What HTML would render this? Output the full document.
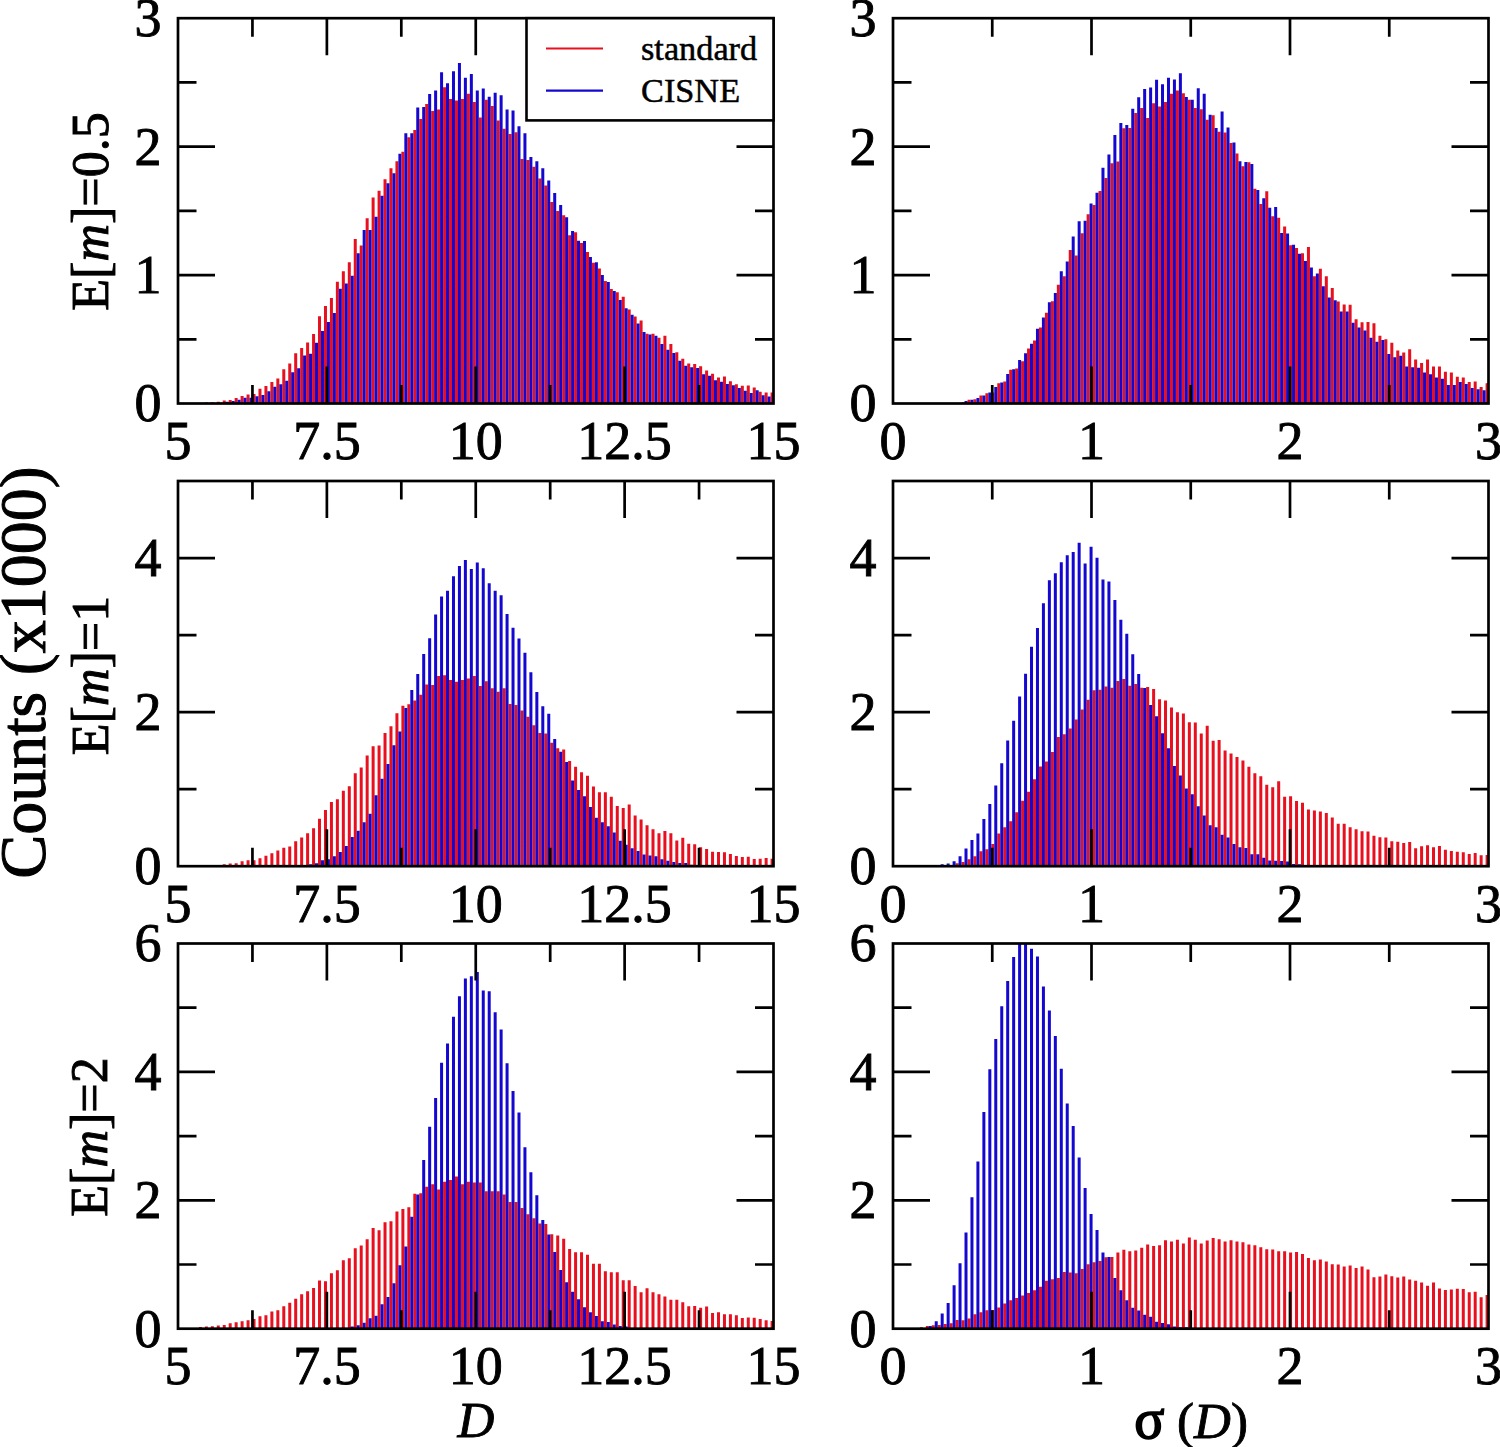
<!DOCTYPE html>
<html><head><meta charset="utf-8"><style>
html,body{margin:0;padding:0;background:#fff;width:1500px;height:1447px;overflow:hidden}
text{font-family:"Liberation Serif",serif;fill:#000}
.t{font-size:54px;stroke:#000;stroke-width:0.9px}
.e{font-size:52px;stroke:#000;stroke-width:0.9px}
.lg{font-size:34.3px;stroke:#000;stroke-width:0.5px}
.big{font-size:66px;stroke:#000;stroke-width:1px}
</style></head><body>
<svg width="1500" height="1447" viewBox="0 0 1500 1447" style="display:block">
<rect width="1500" height="1447" fill="#fff"/>
<path fill="#e8101e" d="M204.88 403.50H207.88V402.47H204.88ZM210.83 403.50H213.83V402.22H210.83ZM216.78 403.50H219.78V401.83H216.78ZM222.74 403.50H225.74V400.42H222.74ZM228.69 403.50H231.69V400.03H228.69ZM234.65 403.50H237.65V397.98H234.65ZM240.60 403.50H243.60V396.05H240.60ZM246.56 403.50H249.56V394.38H246.56ZM252.52 403.50H255.52V394.12H252.52ZM258.47 403.50H261.47V388.73H258.47ZM264.43 403.50H267.43V386.03H264.43ZM270.38 403.50H273.38V382.05H270.38ZM276.34 403.50H279.34V378.39H276.34ZM282.29 403.50H285.29V369.24H282.29ZM288.25 403.50H291.25V363.44H288.25ZM294.20 403.50H297.20V353.28H294.20ZM300.16 403.50H303.16V347.91H300.16ZM306.11 403.50H309.11V342.39H306.11ZM312.07 403.50H315.07V334.12H312.07ZM318.02 403.50H321.02V316.27H318.02ZM323.98 403.50H326.98V306.11H323.98ZM329.93 403.50H332.93V298.12H329.93ZM335.88 403.50H338.88V281.72H335.88ZM341.84 403.50H344.84V271.27H341.84ZM347.80 403.50H350.80V262.13H347.80ZM353.75 403.50H356.75V239.05H353.75ZM359.71 403.50H362.71V245.44H359.71ZM365.66 403.50H368.66V218.30H365.66ZM371.62 403.50H374.62V197.54H371.62ZM377.57 403.50H380.57V190.72H377.57ZM383.53 403.50H386.53V179.24H383.53ZM389.48 403.50H392.48V168.22H389.48ZM395.44 403.50H398.44V161.21H395.44ZM401.39 403.50H404.39V151.69H401.39ZM407.35 403.50H410.35V137.16H407.35ZM413.30 403.50H416.30V129.94H413.30ZM419.25 403.50H422.25V119.12H419.25ZM425.21 403.50H428.21V104.09H425.21ZM431.17 403.50H434.17V111.10H431.17ZM437.12 403.50H440.12V109.60H437.12ZM443.08 403.50H446.08V87.26H443.08ZM449.03 403.50H452.03V99.08H449.03ZM454.99 403.50H457.99V100.58H454.99ZM460.94 403.50H463.94V99.08H460.94ZM466.90 403.50H469.90V93.87H466.90ZM472.85 403.50H475.85V102.09H472.85ZM478.81 403.50H481.81V117.44H478.81ZM484.76 403.50H487.76V99.75H484.76ZM490.72 403.50H493.72V105.97H490.72ZM496.67 403.50H499.67V120.48H496.67ZM502.62 403.50H505.62V128.78H502.62ZM508.58 403.50H511.58V134.03H508.58ZM514.53 403.50H517.53V132.23H514.53ZM520.49 403.50H523.49V158.91H520.49ZM526.45 403.50H529.45V159.88H526.45ZM532.40 403.50H535.40V166.79H532.40ZM538.36 403.50H541.36V178.54H538.36ZM544.31 403.50H547.31V185.45H544.31ZM550.26 403.50H553.26V202.03H550.26ZM556.22 403.50H559.22V211.02H556.22ZM562.18 403.50H565.18V215.16H562.18ZM568.13 403.50H571.13V235.21H568.13ZM574.09 403.50H577.09V232.17H574.09ZM580.04 403.50H583.04V243.01H580.04ZM586.00 403.50H589.00V251.97H586.00ZM591.95 403.50H594.95V262.84H591.95ZM597.91 403.50H600.91V268.59H597.91ZM603.86 403.50H606.86V281.12H603.86ZM609.82 403.50H612.82V289.05H609.82ZM615.77 403.50H618.77V292.25H615.77ZM621.73 403.50H624.73V296.72H621.73ZM627.68 403.50H630.68V309.51H627.68ZM633.64 403.50H636.64V316.55H633.64ZM639.59 403.50H642.59V320.38H639.59ZM645.54 403.50H648.54V333.81H645.54ZM651.50 403.50H654.50V333.81H651.50ZM657.46 403.50H660.46V337.65H657.46ZM663.41 403.50H666.41V335.73H663.41ZM669.37 403.50H672.37V344.04H669.37ZM675.32 403.50H678.32V352.35H675.32ZM681.27 403.50H684.27V358.75H681.27ZM687.23 403.50H690.23V363.56H687.23ZM693.19 403.50H696.19V363.94H693.19ZM699.14 403.50H702.14V366.13H699.14ZM705.10 403.50H708.10V370.62H705.10ZM711.05 403.50H714.05V373.70H711.05ZM717.00 403.50H720.00V377.56H717.00ZM722.96 403.50H725.96V376.53H722.96ZM728.92 403.50H731.92V381.28H728.92ZM734.87 403.50H737.87V384.36H734.87ZM740.83 403.50H743.83V385.78H740.83ZM746.78 403.50H749.78V385.52H746.78ZM752.74 403.50H755.74V387.57H752.74ZM758.69 403.50H761.69V391.68H758.69ZM764.64 403.50H767.64V392.45H764.64ZM770.60 403.50H773.50V392.45H770.60Z"/>
<path fill="#1408d0" d="M219.74 403.50H222.74V402.86H219.74ZM225.69 403.50H228.69V401.83H225.69ZM231.65 403.50H234.65V400.93H231.65ZM237.60 403.50H240.60V399.65H237.60ZM243.56 403.50H246.56V397.85H243.56ZM249.51 403.50H252.51V397.85H249.51ZM255.47 403.50H258.47V396.31H255.47ZM261.42 403.50H264.42V394.89H261.42ZM267.38 403.50H270.38V391.17H267.38ZM273.33 403.50H276.33V386.80H273.33ZM279.29 403.50H282.29V384.19H279.29ZM285.24 403.50H288.24V380.86H285.24ZM291.19 403.50H294.19V372.15H291.19ZM297.15 403.50H300.15V368.23H297.15ZM303.11 403.50H306.11V355.46H303.11ZM309.06 403.50H312.06V353.71H309.06ZM315.02 403.50H318.02V342.68H315.02ZM320.97 403.50H323.97V331.07H320.97ZM326.93 403.50H329.93V322.07H326.93ZM332.88 403.50H335.88V313.07H332.88ZM338.83 403.50H341.83V288.69H338.83ZM344.79 403.50H347.79V283.61H344.79ZM350.75 403.50H353.75V275.63H350.75ZM356.70 403.50H359.70V253.13H356.70ZM362.66 403.50H365.66V229.91H362.66ZM368.61 403.50H371.61V229.91H368.61ZM374.56 403.50H377.56V216.85H374.56ZM380.52 403.50H383.52V195.80H380.52ZM386.48 403.50H389.48V183.25H386.48ZM392.43 403.50H395.43V173.23H392.43ZM398.39 403.50H401.39V153.69H398.39ZM404.34 403.50H407.34V133.15H404.34ZM410.30 403.50H413.30V133.15H410.30ZM416.25 403.50H419.25V107.60H416.25ZM422.20 403.50H425.20V106.90H422.20ZM428.16 403.50H431.16V94.07H428.16ZM434.12 403.50H437.12V90.56H434.12ZM440.07 403.50H443.07V72.23H440.07ZM446.03 403.50H449.03V83.35H446.03ZM451.98 403.50H454.98V71.22H451.98ZM457.94 403.50H460.94V63.01H457.94ZM463.89 403.50H466.89V77.84H463.89ZM469.85 403.50H472.85V74.03H469.85ZM475.80 403.50H478.80V90.56H475.80ZM481.75 403.50H484.75V88.42H481.75ZM487.71 403.50H490.71V96.71H487.71ZM493.67 403.50H496.67V92.84H493.67ZM499.62 403.50H502.62V95.33H499.62ZM505.57 403.50H508.57V109.43H505.57ZM511.53 403.50H514.53V110.39H511.53ZM517.48 403.50H520.48V126.29H517.48ZM523.44 403.50H526.44V133.34H523.44ZM529.39 403.50H532.39V157.11H529.39ZM535.35 403.50H538.35V161.26H535.35ZM541.30 403.50H544.30V168.17H541.30ZM547.26 403.50H550.26V180.61H547.26ZM553.21 403.50H556.21V193.05H553.21ZM559.17 403.50H562.17V205.07H559.17ZM565.12 403.50H568.12V217.24H565.12ZM571.08 403.50H574.08V231.06H571.08ZM577.03 403.50H580.03V240.74H577.03ZM582.99 403.50H585.99V241.10H582.99ZM588.94 403.50H591.94V257.08H588.94ZM594.90 403.50H597.90V262.20H594.90ZM600.86 403.50H603.86V274.98H600.86ZM606.81 403.50H609.81V282.02H606.81ZM612.76 403.50H615.76V290.97H612.76ZM618.72 403.50H621.72V299.92H618.72ZM624.67 403.50H627.67V308.23H624.67ZM630.63 403.50H633.63V314.63H630.63ZM636.59 403.50H639.59V323.58H636.59ZM642.54 403.50H645.54V331.89H642.54ZM648.49 403.50H651.49V334.45H648.49ZM654.45 403.50H657.45V335.73H654.45ZM660.40 403.50H663.40V344.04H660.40ZM666.36 403.50H669.36V349.79H666.36ZM672.31 403.50H675.31V352.99H672.31ZM678.27 403.50H681.27V360.66H678.27ZM684.22 403.50H687.22V365.78H684.22ZM690.18 403.50H693.18V367.15H690.18ZM696.13 403.50H699.13V368.05H696.13ZM702.09 403.50H705.09V374.35H702.09ZM708.04 403.50H711.04V375.76H708.04ZM714.00 403.50H717.00V380.25H714.00ZM719.95 403.50H722.95V381.67H719.95ZM725.91 403.50H728.91V384.11H725.91ZM731.87 403.50H734.87V385.13H731.87ZM737.82 403.50H740.82V387.96H737.82ZM743.77 403.50H746.77V390.66H743.77ZM749.73 403.50H752.73V393.10H749.73ZM755.68 403.50H758.68V390.27H755.68ZM761.64 403.50H764.64V395.15H761.64ZM767.59 403.50H770.59V396.56H767.59Z"/>
<path fill="none" stroke="#000" stroke-width="2.70" d="M326.88 18.20V55.20M326.88 403.50V366.50M475.75 18.20V55.20M475.75 403.50V366.50M624.62 18.20V55.20M624.62 403.50V366.50M252.44 18.20V36.70M252.44 403.50V385.00M401.31 18.20V36.70M401.31 403.50V385.00M550.19 18.20V36.70M550.19 403.50V385.00M699.06 18.20V36.70M699.06 403.50V385.00M178.00 275.07H215.00M773.50 275.07H736.50M178.00 146.63H215.00M773.50 146.63H736.50M178.00 339.28H196.50M773.50 339.28H755.00M178.00 210.85H196.50M773.50 210.85H755.00M178.00 82.42H196.50M773.50 82.42H755.00"/>
<rect x="178.00" y="18.20" width="595.50" height="385.30" fill="none" stroke="#000" stroke-width="2.70"/>
<text x="178.00" y="459.30" text-anchor="middle" class="t">5</text>
<text x="326.88" y="459.30" text-anchor="middle" class="t">7.5</text>
<text x="475.75" y="459.30" text-anchor="middle" class="t">10</text>
<text x="624.62" y="459.30" text-anchor="middle" class="t">12.5</text>
<text x="773.50" y="459.30" text-anchor="middle" class="t">15</text>
<text x="161.50" y="421.40" text-anchor="end" class="t">0</text>
<text x="161.50" y="292.97" text-anchor="end" class="t">1</text>
<text x="161.50" y="164.53" text-anchor="end" class="t">2</text>
<text x="161.50" y="36.10" text-anchor="end" class="t">3</text>
<path fill="#e8101e" d="M961.56 403.50H964.56V402.22H961.56ZM967.51 403.50H970.51V399.78H967.51ZM973.47 403.50H976.47V399.26H973.47ZM979.43 403.50H982.43V395.41H979.43ZM985.38 403.50H988.38V393.23H985.38ZM991.34 403.50H994.34V392.45H991.34ZM997.29 403.50H1000.29V383.21H997.29ZM1003.25 403.50H1006.25V381.54H1003.25ZM1009.20 403.50H1012.20V369.72H1009.20ZM1015.16 403.50H1018.16V368.44H1015.16ZM1021.11 403.50H1024.11V361.37H1021.11ZM1027.06 403.50H1030.06V348.40H1027.06ZM1033.02 403.50H1036.02V340.44H1033.02ZM1038.97 403.50H1041.97V327.47H1038.97ZM1044.93 403.50H1047.93V312.70H1044.93ZM1050.88 403.50H1053.88V301.27H1050.88ZM1056.84 403.50H1059.84V284.70H1056.84ZM1062.79 403.50H1065.79V276.35H1062.79ZM1068.75 403.50H1071.75V249.89H1068.75ZM1074.70 403.50H1077.70V255.42H1074.70ZM1080.66 403.50H1083.66V233.33H1080.66ZM1086.62 403.50H1089.62V214.19H1086.62ZM1092.57 403.50H1095.57V205.07H1092.57ZM1098.52 403.50H1101.52V190.94H1098.52ZM1104.48 403.50H1107.48V178.10H1104.48ZM1110.43 403.50H1113.43V163.20H1110.43ZM1116.39 403.50H1119.39V161.53H1116.39ZM1122.34 403.50H1125.34V128.27H1122.34ZM1128.30 403.50H1131.30V128.01H1128.30ZM1134.25 403.50H1137.25V113.11H1134.25ZM1140.21 403.50H1143.21V108.10H1140.21ZM1146.16 403.50H1149.16V117.99H1146.16ZM1152.12 403.50H1155.12V103.35H1152.12ZM1158.07 403.50H1161.07V106.43H1158.07ZM1164.03 403.50H1167.03V101.94H1164.03ZM1169.98 403.50H1172.98V93.72H1169.98ZM1175.94 403.50H1178.94V90.38H1175.94ZM1181.89 403.50H1184.89V93.21H1181.89ZM1187.85 403.50H1190.85V99.76H1187.85ZM1193.80 403.50H1196.80V108.10H1193.80ZM1199.76 403.50H1202.76V109.26H1199.76ZM1205.71 403.50H1208.71V119.66H1205.71ZM1211.67 403.50H1214.67V115.30H1211.67ZM1217.62 403.50H1220.62V131.86H1217.62ZM1223.58 403.50H1226.58V132.38H1223.58ZM1229.53 403.50H1232.53V142.91H1229.53ZM1235.49 403.50H1238.49V153.44H1235.49ZM1241.44 403.50H1244.44V166.16H1241.44ZM1247.40 403.50H1250.40V162.30H1247.40ZM1253.36 403.50H1256.36V188.76H1253.36ZM1259.31 403.50H1262.31V204.04H1259.31ZM1265.26 403.50H1268.26V191.20H1265.26ZM1271.22 403.50H1274.22V216.37H1271.22ZM1277.17 403.50H1280.17V217.66H1277.17ZM1283.13 403.50H1286.13V226.39H1283.13ZM1289.09 403.50H1292.09V245.14H1289.09ZM1295.04 403.50H1298.04V248.10H1295.04ZM1300.99 403.50H1303.99V253.36H1300.99ZM1306.95 403.50H1309.95V246.94H1306.95ZM1312.90 403.50H1315.90V276.35H1312.90ZM1318.86 403.50H1321.86V268.64H1318.86ZM1324.82 403.50H1327.82V276.35H1324.82ZM1330.77 403.50H1333.77V288.04H1330.77ZM1336.72 403.50H1339.72V301.40H1336.72ZM1342.68 403.50H1345.68V304.48H1342.68ZM1348.63 403.50H1351.63V304.86H1348.63ZM1354.59 403.50H1357.59V319.25H1354.59ZM1360.54 403.50H1363.54V322.20H1360.54ZM1366.50 403.50H1369.50V321.94H1366.50ZM1372.45 403.50H1375.45V323.23H1372.45ZM1378.41 403.50H1381.41V335.69H1378.41ZM1384.36 403.50H1387.36V339.15H1384.36ZM1390.32 403.50H1393.32V342.75H1390.32ZM1396.27 403.50H1399.27V350.59H1396.27ZM1402.23 403.50H1405.23V352.38H1402.23ZM1408.18 403.50H1411.18V349.30H1408.18ZM1414.14 403.50H1417.14V359.45H1414.14ZM1420.09 403.50H1423.09V362.92H1420.09ZM1426.05 403.50H1429.05V359.45H1426.05ZM1432.00 403.50H1435.00V366.51H1432.00ZM1437.96 403.50H1440.96V366.51H1437.96ZM1443.91 403.50H1446.91V371.65H1443.91ZM1449.87 403.50H1452.87V372.55H1449.87ZM1455.82 403.50H1458.82V376.66H1455.82ZM1461.78 403.50H1464.78V377.56H1461.78ZM1467.73 403.50H1470.73V381.92H1467.73ZM1473.69 403.50H1476.69V381.41H1473.69ZM1479.64 403.50H1482.64V387.06H1479.64ZM1485.60 403.50H1488.50V383.21H1485.60Z"/>
<path fill="#1408d0" d="M964.51 403.50H967.51V400.93H964.51ZM970.46 403.50H973.46V399.78H970.46ZM976.42 403.50H979.42V397.98H976.42ZM982.38 403.50H985.38V395.41H982.38ZM988.33 403.50H991.33V392.45H988.33ZM994.28 403.50H997.28V387.06H994.28ZM1000.24 403.50H1003.24V382.44H1000.24ZM1006.19 403.50H1009.19V374.09H1006.19ZM1012.15 403.50H1015.15V369.34H1012.15ZM1018.11 403.50H1021.11V360.09H1018.11ZM1024.06 403.50H1027.06V353.15H1024.06ZM1030.01 403.50H1033.01V343.65H1030.01ZM1035.97 403.50H1038.97V328.75H1035.97ZM1041.92 403.50H1044.92V317.45H1041.92ZM1047.88 403.50H1050.88V302.17H1047.88ZM1053.84 403.50H1056.84V293.05H1053.84ZM1059.79 403.50H1062.79V271.34H1059.79ZM1065.74 403.50H1068.74V261.45H1065.74ZM1071.70 403.50H1074.70V236.54H1071.70ZM1077.65 403.50H1080.65V221.25H1077.65ZM1083.61 403.50H1086.61V220.87H1083.61ZM1089.57 403.50H1092.57V203.40H1089.57ZM1095.52 403.50H1098.52V192.74H1095.52ZM1101.47 403.50H1104.47V167.82H1101.47ZM1107.43 403.50H1110.43V154.47H1107.43ZM1113.38 403.50H1116.38V134.95H1113.38ZM1119.34 403.50H1122.34V123.00H1119.34ZM1125.29 403.50H1128.29V125.06H1125.29ZM1131.25 403.50H1134.25V108.87H1131.25ZM1137.20 403.50H1140.20V97.31H1137.20ZM1143.16 403.50H1146.16V88.97H1143.16ZM1149.12 403.50H1152.12V87.43H1149.12ZM1155.07 403.50H1158.07V79.85H1155.07ZM1161.02 403.50H1164.02V84.34H1161.02ZM1166.98 403.50H1169.98V77.66H1166.98ZM1172.93 403.50H1175.93V79.59H1172.93ZM1178.89 403.50H1181.89V73.30H1178.89ZM1184.85 403.50H1187.85V97.06H1184.85ZM1190.80 403.50H1193.80V99.76H1190.80ZM1196.75 403.50H1199.75V88.20H1196.75ZM1202.71 403.50H1205.71V93.72H1202.71ZM1208.66 403.50H1211.66V114.65H1208.66ZM1214.62 403.50H1217.62V128.01H1214.62ZM1220.58 403.50H1223.58V111.44H1220.58ZM1226.53 403.50H1229.53V127.50H1226.53ZM1232.48 403.50H1235.48V142.40H1232.48ZM1238.44 403.50H1241.44V161.15H1238.44ZM1244.39 403.50H1247.39V162.05H1244.39ZM1250.35 403.50H1253.35V163.97H1250.35ZM1256.31 403.50H1259.31V190.04H1256.31ZM1262.26 403.50H1265.26V198.14H1262.26ZM1268.21 403.50H1271.21V207.64H1268.21ZM1274.17 403.50H1277.17V207.00H1274.17ZM1280.12 403.50H1283.12V232.94H1280.12ZM1286.08 403.50H1289.08V233.45H1286.08ZM1292.04 403.50H1295.04V244.63H1292.04ZM1297.99 403.50H1300.99V253.75H1297.99ZM1303.94 403.50H1306.94V261.07H1303.94ZM1309.90 403.50H1312.90V267.49H1309.90ZM1315.86 403.50H1318.86V273.40H1315.86ZM1321.81 403.50H1324.81V286.24H1321.81ZM1327.77 403.50H1330.77V297.54H1327.77ZM1333.72 403.50H1336.72V300.37H1333.72ZM1339.67 403.50H1342.67V311.54H1339.67ZM1345.63 403.50H1348.63V311.54H1345.63ZM1351.59 403.50H1354.59V322.84H1351.59ZM1357.54 403.50H1360.54V327.47H1357.54ZM1363.49 403.50H1366.49V330.42H1363.49ZM1369.45 403.50H1372.45V337.87H1369.45ZM1375.40 403.50H1378.40V341.85H1375.40ZM1381.36 403.50H1384.36V340.05H1381.36ZM1387.31 403.50H1390.31V354.05H1387.31ZM1393.27 403.50H1396.27V357.14H1393.27ZM1399.22 403.50H1402.22V355.85H1399.22ZM1405.18 403.50H1408.18V366.51H1405.18ZM1411.13 403.50H1414.13V367.28H1411.13ZM1417.09 403.50H1420.09V367.80H1417.09ZM1423.04 403.50H1426.04V372.55H1423.04ZM1429.00 403.50H1432.00V374.35H1429.00ZM1434.95 403.50H1437.95V377.56H1434.95ZM1440.91 403.50H1443.91V378.84H1440.91ZM1446.87 403.50H1449.87V384.88H1446.87ZM1452.82 403.50H1455.82V384.88H1452.82ZM1458.77 403.50H1461.77V381.92H1458.77ZM1464.73 403.50H1467.73V384.11H1464.73ZM1470.68 403.50H1473.68V387.96H1470.68ZM1476.64 403.50H1479.64V389.24H1476.64ZM1482.60 403.50H1485.60V390.14H1482.60Z"/>
<path fill="none" stroke="#000" stroke-width="2.70" d="M1091.50 18.20V55.20M1091.50 403.50V366.50M1290.00 18.20V55.20M1290.00 403.50V366.50M992.25 18.20V36.70M992.25 403.50V385.00M1190.75 18.20V36.70M1190.75 403.50V385.00M1389.25 18.20V36.70M1389.25 403.50V385.00M893.00 275.07H930.00M1488.50 275.07H1451.50M893.00 146.63H930.00M1488.50 146.63H1451.50M893.00 339.28H911.50M1488.50 339.28H1470.00M893.00 210.85H911.50M1488.50 210.85H1470.00M893.00 82.42H911.50M1488.50 82.42H1470.00"/>
<rect x="893.00" y="18.20" width="595.50" height="385.30" fill="none" stroke="#000" stroke-width="2.70"/>
<text x="893.00" y="459.30" text-anchor="middle" class="t">0</text>
<text x="1091.50" y="459.30" text-anchor="middle" class="t">1</text>
<text x="1290.00" y="459.30" text-anchor="middle" class="t">2</text>
<text x="1488.50" y="459.30" text-anchor="middle" class="t">3</text>
<text x="876.50" y="421.40" text-anchor="end" class="t">0</text>
<text x="876.50" y="292.97" text-anchor="end" class="t">1</text>
<text x="876.50" y="164.53" text-anchor="end" class="t">2</text>
<text x="876.50" y="36.10" text-anchor="end" class="t">3</text>
<path fill="#e8101e" d="M210.83 866.20H213.83V865.28H210.83ZM216.78 866.20H219.78V865.43H216.78ZM222.74 866.20H225.74V864.27H222.74ZM228.69 866.20H231.69V863.43H228.69ZM234.65 866.20H237.65V863.20H234.65ZM240.60 866.20H243.60V861.27H240.60ZM246.56 866.20H249.56V860.19H246.56ZM252.52 866.20H255.52V860.27H252.52ZM258.47 866.20H261.47V858.26H258.47ZM264.43 866.20H267.43V855.80H264.43ZM270.38 866.20H273.38V853.33H270.38ZM276.34 866.20H279.34V850.41H276.34ZM282.29 866.20H285.29V847.79H282.29ZM288.25 866.20H291.25V846.40H288.25ZM294.20 866.20H297.20V841.32H294.20ZM300.16 866.20H303.16V837.62H300.16ZM306.11 866.20H309.11V833.30H306.11ZM312.07 866.20H315.07V828.30H312.07ZM318.02 866.20H321.02V818.67H318.02ZM323.98 866.20H326.98V810.11H323.98ZM329.93 866.20H332.93V802.03H329.93ZM335.88 866.20H338.88V799.33H335.88ZM341.84 866.20H344.84V790.78H341.84ZM347.80 866.20H350.80V786.23H347.80ZM353.75 866.20H356.75V773.21H353.75ZM359.71 866.20H362.71V767.59H359.71ZM365.66 866.20H368.66V755.49H365.66ZM371.62 866.20H374.62V746.17H371.62ZM377.57 866.20H380.57V745.48H377.57ZM383.53 866.20H386.53V732.92H383.53ZM389.48 866.20H392.48V726.14H389.48ZM395.44 866.20H398.44V713.28H395.44ZM401.39 866.20H404.39V705.80H401.39ZM407.35 866.20H410.35V704.18H407.35ZM413.30 866.20H416.30V700.49H413.30ZM419.25 866.20H422.25V694.63H419.25ZM425.21 866.20H428.21V684.62H425.21ZM431.17 866.20H434.17V685.08H431.17ZM437.12 866.20H440.12V675.99H437.12ZM443.08 866.20H446.08V675.22H443.08ZM449.03 866.20H452.03V680.07H449.03ZM454.99 866.20H457.99V681.77H454.99ZM460.94 866.20H463.94V680.07H460.94ZM466.90 866.20H469.90V678.53H466.90ZM472.85 866.20H475.85V675.99H472.85ZM478.81 866.20H481.81V686.08H478.81ZM484.76 866.20H487.76V681.30H484.76ZM490.72 866.20H493.72V688.16H490.72ZM496.67 866.20H499.67V691.63H496.67ZM502.62 866.20H505.62V688.16H502.62ZM508.58 866.20H511.58V704.11H508.58ZM514.53 866.20H517.53V705.11H514.53ZM520.49 866.20H523.49V710.58H520.49ZM526.45 866.20H529.45V716.67H526.45ZM532.40 866.20H535.40V725.29H532.40ZM538.36 866.20H541.36V733.07H538.36ZM544.31 866.20H547.31V733.38H544.31ZM550.26 866.20H553.26V742.63H550.26ZM556.22 866.20H559.22V748.33H556.22ZM562.18 866.20H565.18V749.48H562.18ZM568.13 866.20H571.13V761.12H568.13ZM574.09 866.20H577.09V766.82H574.09ZM580.04 866.20H583.04V772.29H580.04ZM586.00 866.20H589.00V775.83H586.00ZM591.95 866.20H594.95V786.39H591.95ZM597.91 866.20H600.91V792.16H597.91ZM603.86 866.20H606.86V792.16H603.86ZM609.82 866.20H612.82V796.63H609.82ZM615.77 866.20H618.77V805.88H615.77ZM621.73 866.20H624.73V808.11H621.73ZM627.68 866.20H630.68V804.57H627.68ZM633.64 866.20H636.64V815.58H633.64ZM639.59 866.20H642.59V819.59H639.59ZM645.54 866.20H648.54V825.37H645.54ZM651.50 866.20H654.50V829.30H651.50ZM657.46 866.20H660.46V833.30H657.46ZM663.41 866.20H666.41V831.07H663.41ZM669.37 866.20H672.37V833.30H669.37ZM675.32 866.20H678.32V840.39H675.32ZM681.27 866.20H684.27V837.70H681.27ZM687.23 866.20H690.23V843.70H687.23ZM693.19 866.20H696.19V844.32H693.19ZM699.14 866.20H702.14V847.17H699.14ZM705.10 866.20H708.10V849.02H705.10ZM711.05 866.20H714.05V851.72H711.05ZM717.00 866.20H720.00V852.02H717.00ZM722.96 866.20H725.96V852.18H722.96ZM728.92 866.20H731.92V854.10H728.92ZM734.87 866.20H737.87V856.03H734.87ZM740.83 866.20H743.83V857.03H740.83ZM746.78 866.20H749.78V856.72H746.78ZM752.74 866.20H755.74V859.04H752.74ZM758.69 866.20H761.69V858.73H758.69ZM764.64 866.20H767.64V858.11H764.64ZM770.60 866.20H773.50V858.73H770.60Z"/>
<path fill="#1408d0" d="M309.06 866.20H312.06V864.27H309.06ZM315.02 866.20H318.02V863.20H315.02ZM320.97 866.20H323.97V860.27H320.97ZM326.93 866.20H329.93V859.27H326.93ZM332.88 866.20H335.88V856.18H332.88ZM338.83 866.20H341.83V852.10H338.83ZM344.79 866.20H347.79V846.09H344.79ZM350.75 866.20H353.75V837.00H350.75ZM356.70 866.20H359.70V830.68H356.70ZM362.66 866.20H365.66V822.21H362.66ZM368.61 866.20H371.61V813.81H368.61ZM374.56 866.20H377.56V795.17H374.56ZM380.52 866.20H383.52V778.68H380.52ZM386.48 866.20H389.48V764.12H386.48ZM392.43 866.20H395.43V745.32H392.43ZM398.39 866.20H401.39V731.53H398.39ZM404.34 866.20H407.34V707.96H404.34ZM410.30 866.20H413.30V690.09H410.30ZM416.25 866.20H419.25V673.99H416.25ZM422.20 866.20H425.20V654.11H422.20ZM428.16 866.20H431.16V638.16H428.16ZM434.12 866.20H437.12V614.59H434.12ZM440.07 866.20H443.07V596.41H440.07ZM446.03 866.20H449.03V590.63H446.03ZM451.98 866.20H454.98V576.22H451.98ZM457.94 866.20H460.94V565.98H457.94ZM463.89 866.20H466.89V559.89H463.89ZM469.85 866.20H472.85V568.98H469.85ZM475.80 866.20H478.80V562.43H475.80ZM481.75 866.20H484.75V568.13H481.75ZM487.71 866.20H490.71V583.23H487.71ZM493.67 866.20H496.67V590.63H493.67ZM499.62 866.20H502.62V595.33H499.62ZM505.57 866.20H508.57V613.89H505.57ZM511.53 866.20H514.53V627.68H511.53ZM517.48 866.20H520.48V638.39H517.48ZM523.44 866.20H526.44V652.80H523.44ZM529.39 866.20H532.39V672.29H529.39ZM535.35 866.20H538.35V692.01H535.35ZM541.30 866.20H544.30V706.26H541.30ZM547.26 866.20H550.26V713.74H547.26ZM553.21 866.20H556.21V739.08H553.21ZM559.17 866.20H562.17V751.72H559.17ZM565.12 866.20H568.12V762.12H565.12ZM571.08 866.20H574.08V780.61H571.08ZM577.03 866.20H580.03V790.08H577.03ZM582.99 866.20H585.99V796.17H582.99ZM588.94 866.20H591.94V807.03H588.94ZM594.90 866.20H597.90V817.82H594.90ZM600.86 866.20H603.86V822.21H600.86ZM606.81 866.20H609.81V826.22H606.81ZM612.76 866.20H615.76V832.38H612.76ZM618.72 866.20H621.72V840.78H618.72ZM624.67 866.20H627.67V844.78H624.67ZM630.63 866.20H633.63V848.33H630.63ZM636.59 866.20H639.59V850.95H636.59ZM642.54 866.20H645.54V854.49H642.54ZM648.49 866.20H651.49V855.41H648.49ZM654.45 866.20H657.45V856.26H654.45ZM660.40 866.20H663.40V859.19H660.40ZM666.36 866.20H669.36V860.73H666.36ZM672.31 866.20H675.31V862.04H672.31ZM678.27 866.20H681.27V863.12H678.27ZM684.22 866.20H687.22V863.12H684.22ZM690.18 866.20H693.18V864.66H690.18ZM696.13 866.20H699.13V865.43H696.13Z"/>
<path fill="none" stroke="#000" stroke-width="2.70" d="M326.88 481.00V518.00M326.88 866.20V829.20M475.75 481.00V518.00M475.75 866.20V829.20M624.62 481.00V518.00M624.62 866.20V829.20M252.44 481.00V499.50M252.44 866.20V847.70M401.31 481.00V499.50M401.31 866.20V847.70M550.19 481.00V499.50M550.19 866.20V847.70M699.06 481.00V499.50M699.06 866.20V847.70M178.00 712.12H215.00M773.50 712.12H736.50M178.00 558.04H215.00M773.50 558.04H736.50M178.00 789.16H196.50M773.50 789.16H755.00M178.00 635.08H196.50M773.50 635.08H755.00"/>
<rect x="178.00" y="481.00" width="595.50" height="385.20" fill="none" stroke="#000" stroke-width="2.70"/>
<text x="178.00" y="921.80" text-anchor="middle" class="t">5</text>
<text x="326.88" y="921.80" text-anchor="middle" class="t">7.5</text>
<text x="475.75" y="921.80" text-anchor="middle" class="t">10</text>
<text x="624.62" y="921.80" text-anchor="middle" class="t">12.5</text>
<text x="773.50" y="921.80" text-anchor="middle" class="t">15</text>
<text x="161.50" y="884.10" text-anchor="end" class="t">0</text>
<text x="161.50" y="730.02" text-anchor="end" class="t">2</text>
<text x="161.50" y="575.94" text-anchor="end" class="t">4</text>
<path fill="#e8101e" d="M949.65 866.20H952.65V865.43H949.65ZM955.61 866.20H958.61V863.20H955.61ZM961.56 866.20H964.56V862.04H961.56ZM967.51 866.20H970.51V859.27H967.51ZM973.47 866.20H976.47V856.18H973.47ZM979.43 866.20H982.43V851.18H979.43ZM985.38 866.20H988.38V849.25H985.38ZM991.34 866.20H994.34V844.01H991.34ZM997.29 866.20H1000.29V833.61H997.29ZM1003.25 866.20H1006.25V827.22H1003.25ZM1009.20 866.20H1012.20V821.36H1009.20ZM1015.16 866.20H1018.16V812.27H1015.16ZM1021.11 866.20H1024.11V800.72H1021.11ZM1027.06 866.20H1030.06V791.78H1027.06ZM1033.02 866.20H1036.02V779.22H1033.02ZM1038.97 866.20H1041.97V766.59H1038.97ZM1044.93 866.20H1047.93V761.43H1044.93ZM1050.88 866.20H1053.88V752.10H1050.88ZM1056.84 866.20H1059.84V737.00H1056.84ZM1062.79 866.20H1065.79V734.31H1062.79ZM1068.75 866.20H1071.75V728.53H1068.75ZM1074.70 866.20H1077.70V719.59H1074.70ZM1080.66 866.20H1083.66V709.58H1080.66ZM1086.62 866.20H1089.62V699.87H1086.62ZM1092.57 866.20H1095.57V690.16H1092.57ZM1098.52 866.20H1101.52V689.78H1098.52ZM1104.48 866.20H1107.48V686.39H1104.48ZM1110.43 866.20H1113.43V687.70H1110.43ZM1116.39 866.20H1119.39V681.07H1116.39ZM1122.34 866.20H1125.34V679.07H1122.34ZM1128.30 866.20H1131.30V685.70H1128.30ZM1134.25 866.20H1137.25V684.00H1134.25ZM1140.21 866.20H1143.21V687.70H1140.21ZM1146.16 866.20H1149.16V686.93H1146.16ZM1152.12 866.20H1155.12V689.01H1152.12ZM1158.07 866.20H1161.07V699.33H1158.07ZM1164.03 866.20H1167.03V700.56H1164.03ZM1169.98 866.20H1172.98V707.57H1169.98ZM1175.94 866.20H1178.94V712.20H1175.94ZM1181.89 866.20H1184.89V713.43H1181.89ZM1187.85 866.20H1190.85V722.21H1187.85ZM1193.80 866.20H1196.80V722.60H1193.80ZM1199.76 866.20H1202.76V733.46H1199.76ZM1205.71 866.20H1208.71V725.76H1205.71ZM1211.67 866.20H1214.67V740.70H1211.67ZM1217.62 866.20H1220.62V740.09H1217.62ZM1223.58 866.20H1226.58V750.49H1223.58ZM1229.53 866.20H1232.53V753.41H1229.53ZM1235.49 866.20H1238.49V757.11H1235.49ZM1241.44 866.20H1244.44V760.42H1241.44ZM1247.40 866.20H1250.40V766.82H1247.40ZM1253.36 866.20H1256.36V773.37H1253.36ZM1259.31 866.20H1262.31V776.37H1259.31ZM1265.26 866.20H1268.26V784.77H1265.26ZM1271.22 866.20H1274.22V787.31H1271.22ZM1277.17 866.20H1280.17V781.30H1277.17ZM1283.13 866.20H1286.13V796.63H1283.13ZM1289.09 866.20H1292.09V796.17H1289.09ZM1295.04 866.20H1298.04V801.02H1295.04ZM1300.99 866.20H1303.99V802.87H1300.99ZM1306.95 866.20H1309.95V809.58H1306.95ZM1312.90 866.20H1315.90V810.42H1312.90ZM1318.86 866.20H1321.86V811.50H1318.86ZM1324.82 866.20H1327.82V812.97H1324.82ZM1330.77 866.20H1333.77V817.51H1330.77ZM1336.72 866.20H1339.72V823.83H1336.72ZM1342.68 866.20H1345.68V823.83H1342.68ZM1348.63 866.20H1351.63V827.22H1348.63ZM1354.59 866.20H1357.59V829.37H1354.59ZM1360.54 866.20H1363.54V831.30H1360.54ZM1366.50 866.20H1369.50V831.53H1366.50ZM1372.45 866.20H1375.45V835.69H1372.45ZM1378.41 866.20H1381.41V837.23H1378.41ZM1384.36 866.20H1387.36V837.46H1384.36ZM1390.32 866.20H1393.32V841.16H1390.32ZM1396.27 866.20H1399.27V841.70H1396.27ZM1402.23 866.20H1405.23V843.01H1402.23ZM1408.18 866.20H1411.18V842.01H1408.18ZM1414.14 866.20H1417.14V848.17H1414.14ZM1420.09 866.20H1423.09V846.25H1420.09ZM1426.05 866.20H1429.05V845.25H1426.05ZM1432.00 866.20H1435.00V847.33H1432.00ZM1437.96 866.20H1440.96V845.94H1437.96ZM1443.91 866.20H1446.91V849.64H1443.91ZM1449.87 866.20H1452.87V851.02H1449.87ZM1455.82 866.20H1458.82V851.72H1455.82ZM1461.78 866.20H1464.78V852.26H1461.78ZM1467.73 866.20H1470.73V854.10H1467.73ZM1473.69 866.20H1476.69V853.10H1473.69ZM1479.64 866.20H1482.64V855.26H1479.64ZM1485.60 866.20H1488.50V855.03H1485.60Z"/>
<path fill="#1408d0" d="M940.69 866.20H943.69V864.27H940.69ZM946.64 866.20H949.64V863.50H946.64ZM952.60 866.20H955.60V861.19H952.60ZM958.55 866.20H961.55V856.18H958.55ZM964.51 866.20H967.51V848.40H964.51ZM970.46 866.20H973.46V840.01H970.46ZM976.42 866.20H979.42V833.61H976.42ZM982.38 866.20H985.38V819.05H982.38ZM988.33 866.20H991.33V803.95H988.33ZM994.28 866.20H997.28V785.39H994.28ZM1000.24 866.20H1003.24V763.27H1000.24ZM1006.19 866.20H1009.19V740.62H1006.19ZM1012.15 866.20H1015.15V720.83H1012.15ZM1018.11 866.20H1021.11V696.40H1018.11ZM1024.06 866.20H1027.06V673.83H1024.06ZM1030.01 866.20H1033.01V646.71H1030.01ZM1035.97 866.20H1038.97V627.92H1035.97ZM1041.92 866.20H1044.92V603.19H1041.92ZM1047.88 866.20H1050.88V580.30H1047.88ZM1053.84 866.20H1056.84V573.22H1053.84ZM1059.79 866.20H1062.79V562.20H1059.79ZM1065.74 866.20H1068.74V555.19H1065.74ZM1071.70 866.20H1074.70V551.88H1071.70ZM1077.65 866.20H1080.65V542.79H1077.65ZM1083.61 866.20H1086.61V563.51H1083.61ZM1089.57 866.20H1092.57V546.72H1089.57ZM1095.52 866.20H1098.52V557.73H1095.52ZM1101.47 866.20H1104.47V579.61H1101.47ZM1107.43 866.20H1110.43V581.61H1107.43ZM1113.38 866.20H1116.38V600.10H1113.38ZM1119.34 866.20H1122.34V619.67H1119.34ZM1125.29 866.20H1128.29V633.77H1125.29ZM1131.25 866.20H1134.25V654.19H1131.25ZM1137.20 866.20H1140.20V674.06H1137.20ZM1143.16 866.20H1146.16V688.01H1143.16ZM1149.12 866.20H1152.12V705.11H1149.12ZM1155.07 866.20H1158.07V716.20H1155.07ZM1161.02 866.20H1164.02V733.31H1161.02ZM1166.98 866.20H1169.98V748.17H1166.98ZM1172.93 866.20H1175.93V765.97H1172.93ZM1178.89 866.20H1181.89V775.60H1178.89ZM1184.85 866.20H1187.85V788.47H1184.85ZM1190.80 866.20H1193.80V794.17H1190.80ZM1196.75 866.20H1199.75V806.26H1196.75ZM1202.71 866.20H1205.71V815.58H1202.71ZM1208.66 866.20H1211.66V825.21H1208.66ZM1214.62 866.20H1217.62V827.22H1214.62ZM1220.58 866.20H1223.58V834.69H1220.58ZM1226.53 866.20H1229.53V837.62H1226.53ZM1232.48 866.20H1235.48V844.01H1232.48ZM1238.44 866.20H1241.44V847.33H1238.44ZM1244.39 866.20H1247.39V848.10H1244.39ZM1250.35 866.20H1253.35V854.18H1250.35ZM1256.31 866.20H1259.31V854.18H1256.31ZM1262.26 866.20H1265.26V857.73H1262.26ZM1268.21 866.20H1271.21V860.50H1268.21ZM1274.17 866.20H1277.17V860.81H1274.17ZM1280.12 866.20H1283.12V861.12H1280.12ZM1286.08 866.20H1289.08V861.50H1286.08ZM1292.04 866.20H1295.04V863.97H1292.04ZM1297.99 866.20H1300.99V864.27H1297.99ZM1303.94 866.20H1306.94V865.04H1303.94ZM1309.90 866.20H1312.90V865.43H1309.90ZM1315.86 866.20H1318.86V865.81H1315.86Z"/>
<path fill="none" stroke="#000" stroke-width="2.70" d="M1091.50 481.00V518.00M1091.50 866.20V829.20M1290.00 481.00V518.00M1290.00 866.20V829.20M992.25 481.00V499.50M992.25 866.20V847.70M1190.75 481.00V499.50M1190.75 866.20V847.70M1389.25 481.00V499.50M1389.25 866.20V847.70M893.00 712.12H930.00M1488.50 712.12H1451.50M893.00 558.04H930.00M1488.50 558.04H1451.50M893.00 789.16H911.50M1488.50 789.16H1470.00M893.00 635.08H911.50M1488.50 635.08H1470.00"/>
<rect x="893.00" y="481.00" width="595.50" height="385.20" fill="none" stroke="#000" stroke-width="2.70"/>
<text x="893.00" y="921.80" text-anchor="middle" class="t">0</text>
<text x="1091.50" y="921.80" text-anchor="middle" class="t">1</text>
<text x="1290.00" y="921.80" text-anchor="middle" class="t">2</text>
<text x="1488.50" y="921.80" text-anchor="middle" class="t">3</text>
<text x="876.50" y="884.10" text-anchor="end" class="t">0</text>
<text x="876.50" y="730.02" text-anchor="end" class="t">2</text>
<text x="876.50" y="575.94" text-anchor="end" class="t">4</text>
<path fill="#e8101e" d="M192.97 1328.70H195.97V1328.06H192.97ZM198.92 1328.70H201.92V1327.10H198.92ZM204.88 1328.70H207.88V1326.58H204.88ZM210.83 1328.70H213.83V1326.20H210.83ZM216.78 1328.70H219.78V1325.49H216.78ZM222.74 1328.70H225.74V1324.91H222.74ZM228.69 1328.70H231.69V1323.18H228.69ZM234.65 1328.70H237.65V1322.28H234.65ZM240.60 1328.70H243.60V1321.32H240.60ZM246.56 1328.70H249.56V1320.23H246.56ZM252.52 1328.70H255.52V1319.01H252.52ZM258.47 1328.70H261.47V1316.18H258.47ZM264.43 1328.70H267.43V1315.22H264.43ZM270.38 1328.70H273.38V1311.43H270.38ZM276.34 1328.70H279.34V1310.27H276.34ZM282.29 1328.70H285.29V1306.29H282.29ZM288.25 1328.70H291.25V1302.70H288.25ZM294.20 1328.70H297.20V1298.72H294.20ZM300.16 1328.70H303.16V1294.22H300.16ZM306.11 1328.70H309.11V1291.27H306.11ZM312.07 1328.70H315.07V1287.93H312.07ZM318.02 1328.70H321.02V1280.49H318.02ZM323.98 1328.70H326.98V1281.32H323.98ZM329.93 1328.70H332.93V1273.23H329.93ZM335.88 1328.70H338.88V1270.28H335.88ZM341.84 1328.70H344.84V1260.20H341.84ZM347.80 1328.70H350.80V1258.21H347.80ZM353.75 1328.70H356.75V1248.13H353.75ZM359.71 1328.70H362.71V1245.43H359.71ZM365.66 1328.70H368.66V1239.27H365.66ZM371.62 1328.70H374.62V1228.10H371.62ZM377.57 1328.70H380.57V1230.22H377.57ZM383.53 1328.70H386.53V1222.19H383.53ZM389.48 1328.70H392.48V1221.23H389.48ZM395.44 1328.70H398.44V1211.60H395.44ZM401.39 1328.70H404.39V1209.10H401.39ZM407.35 1328.70H410.35V1207.30H407.35ZM413.30 1328.70H416.30V1193.69H413.30ZM419.25 1328.70H422.25V1193.17H419.25ZM425.21 1328.70H428.21V1186.82H425.21ZM431.17 1328.70H434.17V1184.19H431.17ZM437.12 1328.70H440.12V1189.39H437.12ZM443.08 1328.70H446.08V1181.68H443.08ZM449.03 1328.70H452.03V1179.88H449.03ZM454.99 1328.70H457.99V1176.61H454.99ZM460.94 1328.70H463.94V1184.19H460.94ZM466.90 1328.70H469.90V1181.68H466.90ZM472.85 1328.70H475.85V1182.52H472.85ZM478.81 1328.70H481.81V1182.52H478.81ZM484.76 1328.70H487.76V1191.18H484.76ZM490.72 1328.70H493.72V1191.18H490.72ZM496.67 1328.70H499.67V1191.18H496.67ZM502.62 1328.70H505.62V1194.52H502.62ZM508.58 1328.70H511.58V1202.10H508.58ZM514.53 1328.70H517.53V1202.10H514.53ZM520.49 1328.70H523.49V1208.00H520.49ZM526.45 1328.70H529.45V1214.23H526.45ZM532.40 1328.70H535.40V1218.28H532.40ZM538.36 1328.70H541.36V1223.41H538.36ZM544.31 1328.70H547.31V1223.93H544.31ZM550.26 1328.70H553.26V1234.13H550.26ZM556.22 1328.70H559.22V1235.42H556.22ZM562.18 1328.70H565.18V1238.69H562.18ZM568.13 1328.70H571.13V1249.03H568.13ZM574.09 1328.70H577.09V1252.30H574.09ZM580.04 1328.70H583.04V1252.30H580.04ZM586.00 1328.70H589.00V1254.81H586.00ZM591.95 1328.70H594.95V1263.79H591.95ZM597.91 1328.70H600.91V1263.79H597.91ZM603.86 1328.70H606.86V1271.37H603.86ZM609.82 1328.70H612.82V1272.20H609.82ZM615.77 1328.70H618.77V1272.20H615.77ZM621.73 1328.70H624.73V1280.29H621.73ZM627.68 1328.70H630.68V1280.29H627.68ZM633.64 1328.70H636.64V1286.07H633.64ZM639.59 1328.70H642.59V1292.17H639.59ZM645.54 1328.70H648.54V1288.19H645.54ZM651.50 1328.70H654.50V1292.17H651.50ZM657.46 1328.70H660.46V1294.29H657.46ZM663.41 1328.70H666.41V1296.60H663.41ZM669.37 1328.70H672.37V1299.68H669.37ZM675.32 1328.70H678.32V1299.87H675.32ZM681.27 1328.70H684.27V1302.31H681.27ZM687.23 1328.70H690.23V1306.29H687.23ZM693.19 1328.70H696.19V1306.10H693.19ZM699.14 1328.70H702.14V1307.71H699.14ZM705.10 1328.70H708.10V1306.62H705.10ZM711.05 1328.70H714.05V1313.10H711.05ZM717.00 1328.70H720.00V1312.20H717.00ZM722.96 1328.70H725.96V1314.19H722.96ZM728.92 1328.70H731.92V1314.19H728.92ZM734.87 1328.70H737.87V1315.28H734.87ZM740.83 1328.70H743.83V1318.11H740.83ZM746.78 1328.70H749.78V1317.40H746.78ZM752.74 1328.70H755.74V1317.72H752.74ZM758.69 1328.70H761.69V1319.07H758.69ZM764.64 1328.70H767.64V1320.23H764.64ZM770.60 1328.70H773.50V1321.00H770.60Z"/>
<path fill="#1408d0" d="M344.79 1328.70H347.79V1328.06H344.79ZM350.75 1328.70H353.75V1326.39H350.75ZM356.70 1328.70H359.70V1325.23H356.70ZM362.66 1328.70H365.66V1322.67H362.66ZM368.61 1328.70H371.61V1318.36H368.61ZM374.56 1328.70H377.56V1315.86H374.56ZM380.52 1328.70H383.52V1304.30H380.52ZM386.48 1328.70H389.48V1296.99H386.48ZM392.43 1328.70H395.43V1283.18H392.43ZM398.39 1328.70H401.39V1265.27H398.39ZM404.34 1328.70H407.34V1246.40H404.34ZM410.30 1328.70H413.30V1216.74H410.30ZM416.25 1328.70H419.25V1194.52H416.25ZM422.20 1328.70H425.20V1159.92H422.20ZM428.16 1328.70H431.16V1126.73H428.16ZM434.12 1328.70H437.12V1098.09H434.12ZM440.07 1328.70H443.07V1062.78H440.07ZM446.03 1328.70H449.03V1043.59H446.03ZM451.98 1328.70H454.98V1016.69H451.98ZM457.94 1328.70H460.94V996.27H457.94ZM463.89 1328.70H466.89V978.42H463.89ZM469.85 1328.70H472.85V976.31H469.85ZM475.80 1328.70H478.80V972.00H475.80ZM481.75 1328.70H484.75V990.62H481.75ZM487.71 1328.70H490.71V991.20H487.71ZM493.67 1328.70H496.67V1012.13H493.67ZM499.62 1328.70H502.62V1029.53H499.62ZM505.57 1328.70H508.57V1063.30H505.57ZM511.53 1328.70H514.53V1090.90H511.53ZM517.48 1328.70H520.48V1112.60H517.48ZM523.44 1328.70H526.44V1147.21H523.44ZM529.39 1328.70H532.39V1172.18H529.39ZM535.35 1328.70H538.35V1195.23H535.35ZM541.30 1328.70H544.30V1220.07H541.30ZM547.26 1328.70H550.26V1234.58H547.26ZM553.21 1328.70H556.21V1251.98H553.21ZM559.17 1328.70H562.17V1269.89H559.17ZM565.12 1328.70H568.12V1282.22H565.12ZM571.08 1328.70H574.08V1291.72H571.08ZM577.03 1328.70H580.03V1299.23H577.03ZM582.99 1328.70H585.99V1307.13H582.99ZM588.94 1328.70H591.94V1312.14H588.94ZM594.90 1328.70H597.90V1316.05H594.90ZM600.86 1328.70H603.86V1321.32H600.86ZM606.81 1328.70H609.81V1322.02H606.81ZM612.76 1328.70H615.76V1324.40H612.76ZM618.72 1328.70H621.72V1326.00H618.72ZM624.67 1328.70H627.67V1326.45H624.67ZM630.63 1328.70H633.63V1328.06H630.63Z"/>
<path fill="none" stroke="#000" stroke-width="2.70" d="M326.88 943.50V980.50M326.88 1328.70V1291.70M475.75 943.50V980.50M475.75 1328.70V1291.70M624.62 943.50V980.50M624.62 1328.70V1291.70M252.44 943.50V962.00M252.44 1328.70V1310.20M401.31 943.50V962.00M401.31 1328.70V1310.20M550.19 943.50V962.00M550.19 1328.70V1310.20M699.06 943.50V962.00M699.06 1328.70V1310.20M178.00 1200.30H215.00M773.50 1200.30H736.50M178.00 1071.90H215.00M773.50 1071.90H736.50M178.00 1264.50H196.50M773.50 1264.50H755.00M178.00 1136.10H196.50M773.50 1136.10H755.00M178.00 1007.70H196.50M773.50 1007.70H755.00"/>
<rect x="178.00" y="943.50" width="595.50" height="385.20" fill="none" stroke="#000" stroke-width="2.70"/>
<text x="178.00" y="1383.70" text-anchor="middle" class="t">5</text>
<text x="326.88" y="1383.70" text-anchor="middle" class="t">7.5</text>
<text x="475.75" y="1383.70" text-anchor="middle" class="t">10</text>
<text x="624.62" y="1383.70" text-anchor="middle" class="t">12.5</text>
<text x="773.50" y="1383.70" text-anchor="middle" class="t">15</text>
<text x="161.50" y="1346.60" text-anchor="end" class="t">0</text>
<text x="161.50" y="1218.20" text-anchor="end" class="t">2</text>
<text x="161.50" y="1089.80" text-anchor="end" class="t">4</text>
<text x="161.50" y="961.40" text-anchor="end" class="t">6</text>
<path fill="#e8101e" d="M913.92 1328.70H916.92V1328.06H913.92ZM919.88 1328.70H922.88V1327.29H919.88ZM925.83 1328.70H928.83V1326.00H925.83ZM931.78 1328.70H934.78V1325.17H931.78ZM937.74 1328.70H940.74V1324.98H937.74ZM943.70 1328.70H946.70V1324.08H943.70ZM949.65 1328.70H952.65V1323.37H949.65ZM955.61 1328.70H958.61V1319.90H955.61ZM961.56 1328.70H964.56V1320.23H961.56ZM967.51 1328.70H970.51V1318.43H967.51ZM973.47 1328.70H976.47V1314.19H973.47ZM979.43 1328.70H982.43V1312.20H979.43ZM985.38 1328.70H988.38V1310.21H985.38ZM991.34 1328.70H994.34V1309.95H991.34ZM997.29 1328.70H1000.29V1307.51H997.29ZM1003.25 1328.70H1006.25V1303.60H1003.25ZM1009.20 1328.70H1012.20V1300.20H1009.20ZM1015.16 1328.70H1018.16V1298.08H1015.16ZM1021.11 1328.70H1024.11V1295.57H1021.11ZM1027.06 1328.70H1030.06V1292.88H1027.06ZM1033.02 1328.70H1036.02V1290.31H1033.02ZM1038.97 1328.70H1041.97V1286.71H1038.97ZM1044.93 1328.70H1047.93V1280.68H1044.93ZM1050.88 1328.70H1053.88V1279.33H1050.88ZM1056.84 1328.70H1059.84V1278.11H1056.84ZM1062.79 1328.70H1065.79V1272.01H1062.79ZM1068.75 1328.70H1071.75V1272.53H1068.75ZM1074.70 1328.70H1077.70V1273.23H1074.70ZM1080.66 1328.70H1083.66V1269.12H1080.66ZM1086.62 1328.70H1089.62V1264.18H1086.62ZM1092.57 1328.70H1095.57V1262.19H1092.57ZM1098.52 1328.70H1101.52V1261.03H1098.52ZM1104.48 1328.70H1107.48V1257.37H1104.48ZM1110.43 1328.70H1113.43V1256.92H1110.43ZM1116.39 1328.70H1119.39V1252.49H1116.39ZM1122.34 1328.70H1125.34V1249.73H1122.34ZM1128.30 1328.70H1131.30V1251.27H1128.30ZM1134.25 1328.70H1137.25V1250.38H1134.25ZM1140.21 1328.70H1143.21V1247.87H1140.21ZM1146.16 1328.70H1149.16V1244.53H1146.16ZM1152.12 1328.70H1155.12V1246.07H1152.12ZM1158.07 1328.70H1161.07V1245.18H1158.07ZM1164.03 1328.70H1167.03V1240.30H1164.03ZM1169.98 1328.70H1172.98V1241.52H1169.98ZM1175.94 1328.70H1178.94V1239.72H1175.94ZM1181.89 1328.70H1184.89V1243.57H1181.89ZM1187.85 1328.70H1190.85V1237.60H1187.85ZM1193.80 1328.70H1196.80V1239.72H1193.80ZM1199.76 1328.70H1202.76V1243.57H1199.76ZM1205.71 1328.70H1208.71V1240.62H1205.71ZM1211.67 1328.70H1214.67V1237.92H1211.67ZM1217.62 1328.70H1220.62V1239.21H1217.62ZM1223.58 1328.70H1226.58V1241.52H1223.58ZM1229.53 1328.70H1232.53V1240.30H1229.53ZM1235.49 1328.70H1238.49V1241.52H1235.49ZM1241.44 1328.70H1244.44V1242.16H1241.44ZM1247.40 1328.70H1250.40V1244.53H1247.40ZM1253.36 1328.70H1256.36V1245.18H1253.36ZM1259.31 1328.70H1262.31V1247.29H1259.31ZM1265.26 1328.70H1268.26V1249.28H1265.26ZM1271.22 1328.70H1274.22V1249.48H1271.22ZM1277.17 1328.70H1280.17V1251.27H1277.17ZM1283.13 1328.70H1286.13V1251.27H1283.13ZM1289.09 1328.70H1292.09V1252.49H1289.09ZM1295.04 1328.70H1298.04V1251.98H1295.04ZM1300.99 1328.70H1303.99V1253.91H1300.99ZM1306.95 1328.70H1309.95V1257.89H1306.95ZM1312.90 1328.70H1315.90V1260.20H1312.90ZM1318.86 1328.70H1321.86V1259.49H1318.86ZM1324.82 1328.70H1327.82V1261.42H1324.82ZM1330.77 1328.70H1333.77V1264.31H1330.77ZM1336.72 1328.70H1339.72V1264.50H1336.72ZM1342.68 1328.70H1345.68V1266.43H1342.68ZM1348.63 1328.70H1351.63V1265.53H1348.63ZM1354.59 1328.70H1357.59V1268.03H1354.59ZM1360.54 1328.70H1363.54V1266.43H1360.54ZM1366.50 1328.70H1369.50V1269.38H1366.50ZM1372.45 1328.70H1375.45V1277.28H1372.45ZM1378.41 1328.70H1381.41V1276.51H1378.41ZM1384.36 1328.70H1387.36V1274.58H1384.36ZM1390.32 1328.70H1393.32V1276.31H1390.32ZM1396.27 1328.70H1399.27V1277.40H1396.27ZM1402.23 1328.70H1405.23V1276.38H1402.23ZM1408.18 1328.70H1411.18V1279.52H1408.18ZM1414.14 1328.70H1417.14V1280.81H1414.14ZM1420.09 1328.70H1423.09V1282.41H1420.09ZM1426.05 1328.70H1429.05V1285.81H1426.05ZM1432.00 1328.70H1435.00V1282.41H1432.00ZM1437.96 1328.70H1440.96V1288.38H1437.96ZM1443.91 1328.70H1446.91V1290.12H1443.91ZM1449.87 1328.70H1452.87V1289.41H1449.87ZM1455.82 1328.70H1458.82V1288.70H1455.82ZM1461.78 1328.70H1464.78V1289.09H1461.78ZM1467.73 1328.70H1470.73V1292.17H1467.73ZM1473.69 1328.70H1476.69V1291.72H1473.69ZM1479.64 1328.70H1482.64V1297.37H1479.64ZM1485.60 1328.70H1488.50V1295.12H1485.60Z"/>
<path fill="#1408d0" d="M922.82 1328.70H925.82V1328.06H922.82ZM928.78 1328.70H931.78V1326.00H928.78ZM934.73 1328.70H937.73V1321.32H934.73ZM940.69 1328.70H943.69V1313.61H940.69ZM946.64 1328.70H949.64V1303.08H946.64ZM952.60 1328.70H955.60V1285.30H952.60ZM958.55 1328.70H961.55V1263.22H958.55ZM964.51 1328.70H967.51V1232.53H964.51ZM970.46 1328.70H973.46V1197.28H970.46ZM976.42 1328.70H979.42V1161.52H976.42ZM982.38 1328.70H985.38V1112.09H982.38ZM988.33 1328.70H991.33V1069.20H988.33ZM994.28 1328.70H997.28V1039.03H994.28ZM1000.24 1328.70H1003.24V1006.16H1000.24ZM1006.19 1328.70H1009.19V980.99H1006.19ZM1012.15 1328.70H1015.15V956.98H1012.15ZM1018.11 1328.70H1021.11V943.50H1018.11ZM1024.06 1328.70H1027.06V943.50H1024.06ZM1030.01 1328.70H1033.01V948.70H1030.01ZM1035.97 1328.70H1038.97V956.40H1035.97ZM1041.92 1328.70H1044.92V986.39H1041.92ZM1047.88 1328.70H1050.88V1010.59H1047.88ZM1053.84 1328.70H1056.84V1036.01H1053.84ZM1059.79 1328.70H1062.79V1068.82H1059.79ZM1065.74 1328.70H1068.74V1103.61H1065.74ZM1071.70 1328.70H1074.70V1126.02H1071.70ZM1077.65 1328.70H1080.65V1157.61H1077.65ZM1083.61 1328.70H1086.61V1187.97H1083.61ZM1089.57 1328.70H1092.57V1214.10H1089.57ZM1095.52 1328.70H1098.52V1230.09H1095.52ZM1101.47 1328.70H1104.47V1252.49H1101.47ZM1107.43 1328.70H1110.43V1256.92H1107.43ZM1113.38 1328.70H1116.38V1278.11H1113.38ZM1119.34 1328.70H1122.34V1290.18H1119.34ZM1125.29 1328.70H1128.29V1300.20H1125.29ZM1131.25 1328.70H1134.25V1307.71H1131.25ZM1137.20 1328.70H1140.20V1310.40H1137.20ZM1143.16 1328.70H1146.16V1314.77H1143.16ZM1149.12 1328.70H1152.12V1316.82H1149.12ZM1155.07 1328.70H1158.07V1321.83H1155.07ZM1161.02 1328.70H1164.02V1322.99H1161.02ZM1166.98 1328.70H1169.98V1324.27H1166.98ZM1172.93 1328.70H1175.93V1326.39H1172.93ZM1178.89 1328.70H1181.89V1327.29H1178.89ZM1184.85 1328.70H1187.85V1327.29H1184.85ZM1190.80 1328.70H1193.80V1327.93H1190.80ZM1196.75 1328.70H1199.75V1328.19H1196.75Z"/>
<path fill="none" stroke="#000" stroke-width="2.70" d="M1091.50 943.50V980.50M1091.50 1328.70V1291.70M1290.00 943.50V980.50M1290.00 1328.70V1291.70M992.25 943.50V962.00M992.25 1328.70V1310.20M1190.75 943.50V962.00M1190.75 1328.70V1310.20M1389.25 943.50V962.00M1389.25 1328.70V1310.20M893.00 1200.30H930.00M1488.50 1200.30H1451.50M893.00 1071.90H930.00M1488.50 1071.90H1451.50M893.00 1264.50H911.50M1488.50 1264.50H1470.00M893.00 1136.10H911.50M1488.50 1136.10H1470.00M893.00 1007.70H911.50M1488.50 1007.70H1470.00"/>
<rect x="893.00" y="943.50" width="595.50" height="385.20" fill="none" stroke="#000" stroke-width="2.70"/>
<text x="893.00" y="1383.70" text-anchor="middle" class="t">0</text>
<text x="1091.50" y="1383.70" text-anchor="middle" class="t">1</text>
<text x="1290.00" y="1383.70" text-anchor="middle" class="t">2</text>
<text x="1488.50" y="1383.70" text-anchor="middle" class="t">3</text>
<text x="876.50" y="1346.60" text-anchor="end" class="t">0</text>
<text x="876.50" y="1218.20" text-anchor="end" class="t">2</text>
<text x="876.50" y="1089.80" text-anchor="end" class="t">4</text>
<text x="876.50" y="961.40" text-anchor="end" class="t">6</text>
<rect x="526.5" y="18.2" width="247" height="102.2" fill="#fff" stroke="#000" stroke-width="2.6"/>
<path d="M546 48.5H603" stroke="#e8101e" stroke-width="2.2"/>
<path d="M546 90.7H603" stroke="#1408d0" stroke-width="2.2"/>
<text x="641" y="60.4" class="lg">standard</text>
<text x="641" y="102.2" class="lg">CISNE</text>
<text transform="translate(107.80 211.50) rotate(-90)" text-anchor="middle" class="e">E[<tspan font-style="italic">m</tspan>]=0.5</text>
<text transform="translate(107.50 675.50) rotate(-90)" text-anchor="middle" class="e">E[<tspan font-style="italic">m</tspan>]=1</text>
<text transform="translate(107.40 1137.00) rotate(-90)" text-anchor="middle" class="e">E[<tspan font-style="italic">m</tspan>]=2</text>
<text transform="translate(44.50 672.50) rotate(-90)" text-anchor="middle" class="big">Counts (x1000)</text>
<text x="476" y="1437" text-anchor="middle" class="t" font-style="italic" style="font-size:51px">D</text>
<text x="1191" y="1437.5" text-anchor="middle" class="t" style="font-size:51px"><tspan style="font-size:56px;stroke-width:1.6px">&#963;</tspan> (<tspan font-style="italic">D</tspan>)</text>
</svg>
</body></html>
